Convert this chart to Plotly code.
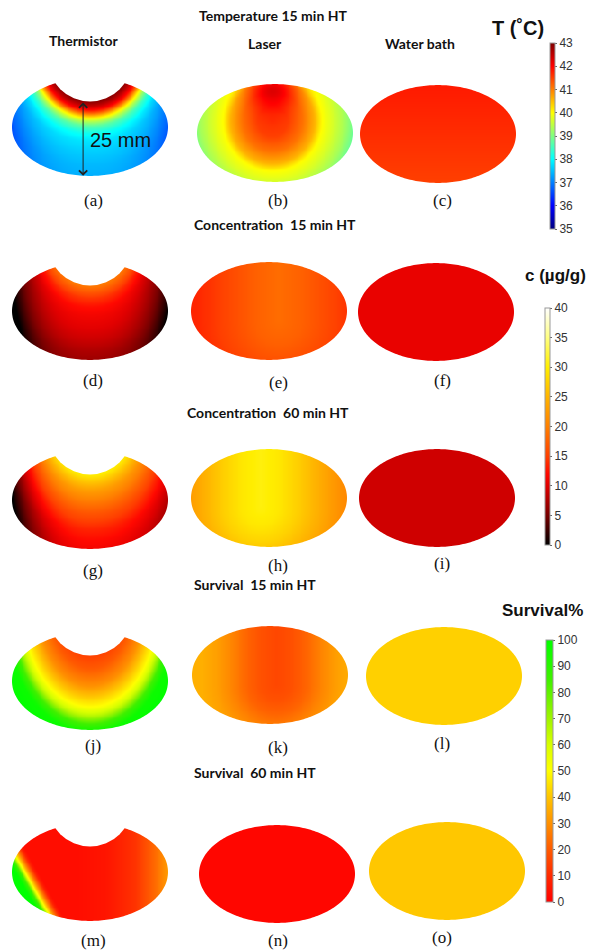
import numpy as np
import plotly.graph_objects as go

W, H = 595, 950
PX_PER_MM = 3.0

# ---------------- geometry (mm) ----------------
A_SEMI = 26.0      # half width of the tissue section
B_SEMI = 16.3      # half height of the tissue section
NOTCH_YC = 22.5    # centre of the thermistor notch (above section centre)
NOTCH_R = 14.0     # notch radius
LASER_TOP, LASER_BOT = 17.0, -3.0   # extent of the laser heating axis

# ---------------- colour scales ----------------
CS_TEMP = [[0.0, "#00007f"], [0.125, "#0000ff"], [0.375, "#00ffff"],
           [0.5, "#80ff80"], [0.625, "#ffff00"], [0.875, "#ff0000"], [1.0, "#7f0000"]]
CS_CONC = [[0.0, "#000000"], [0.125, "#780000"], [0.25, "#e00000"], [0.3, "#ff0800"],
           [0.375, "#ff4000"], [0.5, "#ff8000"], [0.625, "#ffb400"], [0.75, "#ffee00"],
           [0.875, "#ffff80"], [1.0, "#ffffff"]]
CS_SURV = [[0.0, "#ff0000"], [0.1, "#ff2a00"], [0.2, "#ff5a00"], [0.3, "#ff9000"],
           [0.4, "#ffc400"], [0.5, "#ffff00"], [0.6, "#d8ff00"], [0.7, "#a0f400"],
           [0.85, "#40f000"], [1.0, "#00ff00"]]

TEMP_TICKS = [35, 36, 37, 38, 39, 40, 41, 42, 43]
CONC_TICKS = [0, 5, 10, 15, 20, 25, 30, 35, 40]
SURV_TICKS = [0, 10, 20, 30, 40, 50, 60, 70, 80, 90, 100]

# ---------------- field profiles ----------------
# (a) temperature, thermistor: vs distance from notch wall (mm)
A_DN = [0, 1.3, 2.6, 3.8, 5, 6.3, 8, 10.5, 13, 17, 21, 26]
A_T = [42.9, 42.5, 42.0, 41.2, 40.3, 39.5, 38.7, 38.1, 37.8, 37.6, 37.45, 37.35]
A_EDGE_DROP = 0.8
# (b) temperature, laser: radial profile about the beam focus + surface hot spot
B_FOCUS = (-1.0, 4.0)
B_R = [0, 5, 10, 14, 16.5, 20, 24, 28]
B_T = [41.6, 41.5, 41.1, 40.6, 40.0, 39.7, 39.3, 38.7]
B_SPOT = (-1.0, 16.3, 9.0, 7.0, 1.3)   # x, y, width x, width y, amplitude
# (c) temperature, water bath: bottom / top
C_T = [41.5, 41.8]
# (d) concentration 15 min, thermistor
D_DN = [0, 2, 4, 7, 10, 14, 18, 22, 26]
D_C = [19.5, 17, 14.5, 12.3, 11.2, 10.2, 9, 7.5, 6.5]
D_EDGE_DROP = (10.0, 8.5)
# (e) concentration 15 min, laser
E_X0 = 3.0
E_D = [0, 8, 15, 22, 28]
E_C = [18.5, 17.5, 16, 14.5, 13.5]
# (f) concentration 15 min, water bath
F_C = 10.6
# (g) concentration 60 min, thermistor
G_DN = [0, 2, 5, 9, 13, 18, 22, 26]
G_C = [30, 27, 23, 19.5, 16.5, 13.5, 12, 11]
G_EDGE_DROP = (13.0, 5.0)
# (h) concentration 60 min, laser
H_X0 = -3.0
H_D = [0, 6, 12, 18, 24, 28]
H_C = [30.5, 29.5, 27.5, 25, 22.5, 21]
# (i) concentration 60 min, water bath
I_C = 9.2
# (j) survival 15 min, thermistor: vs scaled distance from notch centre
J_K = 0.71
J_Q = [10, 13, 17, 20, 22, 24, 26, 28, 32]
J_S = [15, 20, 30, 42, 50, 65, 85, 97, 100]
# (k) survival 15 min, laser
K_X0 = 2.0
K_D = [0, 5, 10, 15, 20, 25]
K_S = [16, 18, 22, 28, 33, 36]
# (l) survival 15 min, water bath
L_S = 42.0
# (m) survival 60 min, thermistor: surviving rim at lower left + warm right side
M_FRONT = [(-24.3, 5.0), (-13.3, -14.3)]
M_SD = [-4, -2.5, -1.0, 0.3, 1.6, 3.0]
M_SV = [0, 8, 28, 50, 85, 100]
M_X = [-5, 5, 15, 22, 26]
M_XV = [3, 5, 12, 24, 33]
# (n) survival 60 min, laser
N_S = 1.5
# (o) survival 60 min, water bath
O_S = 40.5

# ---------------- field builders ----------------
xs = np.arange(-27.0, 27.001, 0.6)
ys = np.arange(-17.0, 17.001, 0.6)
X, Y = np.meshgrid(xs, ys)


def notch_dist():
    return np.hypot(X, Y - NOTCH_YC) - NOTCH_R


def edge_drop(left, right, power=3.0):
    return (left * (np.maximum(-X, 0) / A_SEMI) ** power
            + right * (np.maximum(X, 0) / A_SEMI) ** power)


def axis_dist(x0):
    return np.hypot(X - x0, np.maximum(0, LASER_BOT - Y) + np.maximum(0, Y - LASER_TOP))


def uniform(v):
    return np.full_like(X, v)


def field_a():
    return np.interp(notch_dist(), A_DN, A_T) - A_EDGE_DROP * (np.abs(X) / A_SEMI) ** 3


def field_b():
    r = np.hypot(X - B_FOCUS[0], Y - B_FOCUS[1])
    sx, sy, wx, wy, amp = B_SPOT
    spot = amp * np.exp(-((X - sx) / wx) ** 2 - ((Y - sy) / wy) ** 2)
    return np.interp(r, B_R, B_T) + spot


def field_c():
    return np.interp(Y, [-B_SEMI, B_SEMI], C_T)


def field_d():
    return np.interp(notch_dist(), D_DN, D_C) - edge_drop(*D_EDGE_DROP)


def field_e():
    return np.interp(axis_dist(E_X0), E_D, E_C)


def field_g():
    return np.interp(notch_dist(), G_DN, G_C) - edge_drop(*G_EDGE_DROP, power=2.5)


def field_h():
    return np.interp(axis_dist(H_X0), H_D, H_C)


def field_j():
    q = np.hypot(X, J_K * (Y - NOTCH_YC))
    return np.interp(q, J_Q, J_S)


def field_k():
    return np.interp(axis_dist(K_X0), K_D, K_S)


def field_m():
    (x1, y1), (x2, y2) = M_FRONT
    dx, dy = x2 - x1, y2 - y1
    n = np.hypot(dx, dy)
    nx, ny = dy / n, -dx / n          # normal pointing out of the section (lower left)
    s = (X - x1) * nx + (Y - y1) * ny
    rim = np.interp(s, M_SD, M_SV)
    core = np.interp(X, M_X, M_XV)
    return np.maximum(rim, core)


# label, centre (px), colour axis, field, has notch, label position (px)
PANELS = [
    ("(a)", 90, 127, "coloraxis", field_a(), True, (93, 200)),
    ("(b)", 275, 133, "coloraxis", field_b(), False, (278, 200)),
    ("(c)", 438, 134, "coloraxis", field_c(), False, (442, 200)),
    ("(d)", 90, 311, "coloraxis2", field_d(), True, (93, 380)),
    ("(e)", 269, 311, "coloraxis2", field_e(), False, (278, 382)),
    ("(f)", 436, 312, "coloraxis2", uniform(F_C), False, (442, 380)),
    ("(g)", 90, 500, "coloraxis2", field_g(), True, (93, 570)),
    ("(h)", 269, 498, "coloraxis2", field_h(), False, (278, 565)),
    ("(i)", 437, 498, "coloraxis2", uniform(I_C), False, (442, 563)),
    ("(j)", 90, 681, "coloraxis3", field_j(), True, (93, 745)),
    ("(k)", 270, 675, "coloraxis3", field_k(), False, (278, 747)),
    ("(l)", 444, 676, "coloraxis3", uniform(L_S), False, (442, 743)),
    ("(m)", 90, 872, "coloraxis3", field_m(), True, (93, 940)),
    ("(n)", 277, 874, "coloraxis3", uniform(N_S), False, (278, 940)),
    ("(o)", 447, 871, "coloraxis3", uniform(O_S), False, (442, 937)),
]

BOX_W, BOX_H = 170, 120   # subplot box in px

fig = go.Figure()
layout = dict(width=W, height=H, margin=dict(l=0, r=0, t=0, b=0),
              paper_bgcolor="white", plot_bgcolor="white", showlegend=False)
shapes, annotations = [], []

# mask: rectangle minus the ellipse outline, filled white
t = np.linspace(0, 2 * np.pi, 241)
ex, ey = A_SEMI * np.cos(t), B_SEMI * np.sin(t)
RX, RY = 27.8, 17.8
mask_path = (f"M{-RX},{-RY} L{RX},{-RY} L{RX},{RY} L{-RX},{RY} Z "
             + "M" + " L".join(f"{a:.3f},{b:.3f}" for a, b in zip(ex, ey)) + " Z")


def paper(px, py):
    return px / W, 1 - py / H


for i, (lab, cx, cy, cax, z, notch, lab_pos) in enumerate(PANELS, start=1):
    sfx = "" if i == 1 else str(i)
    xr = BOX_W / 2 / PX_PER_MM
    yr = BOX_H / 2 / PX_PER_MM
    layout["xaxis" + sfx] = dict(domain=[(cx - BOX_W / 2) / W, (cx + BOX_W / 2) / W],
                                 range=[-xr, xr], visible=False, anchor="y" + sfx,
                                 fixedrange=True)
    layout["yaxis" + sfx] = dict(domain=[1 - (cy + BOX_H / 2) / H, 1 - (cy - BOX_H / 2) / H],
                                 range=[-yr, yr], visible=False, anchor="x" + sfx,
                                 fixedrange=True)
    fig.add_trace(go.Heatmap(x=xs, y=ys, z=np.round(z, 3), coloraxis=cax, zsmooth="best",
                             xaxis="x" + sfx, yaxis="y" + sfx, hoverinfo="skip"))
    shapes.append(dict(type="path", path=mask_path, xref="x" + sfx, yref="y" + sfx,
                       fillcolor="white", fillrule="evenodd", line=dict(width=0),
                       layer="above"))
    if notch:
        shapes.append(dict(type="circle", xref="x" + sfx, yref="y" + sfx,
                           x0=-NOTCH_R, x1=NOTCH_R, y0=NOTCH_YC - NOTCH_R,
                           y1=NOTCH_YC + NOTCH_R, fillcolor="white",
                           line=dict(width=0), layer="above"))
    px, py = paper(*lab_pos)
    annotations.append(dict(text=lab, x=px, y=py, xref="paper", yref="paper",
                            showarrow=False, xanchor="center", yanchor="middle",
                            font=dict(family="Liberation Serif", size=17, color="#111")))

# 25 mm depth marker in panel (a)
ARROW_X = -2.3
y_top = NOTCH_YC - np.sqrt(NOTCH_R ** 2 - ARROW_X ** 2)
y_bot = -B_SEMI * np.sqrt(1 - (ARROW_X / A_SEMI) ** 2)
annotations.append(dict(x=ARROW_X, y=y_bot, ax=ARROW_X, ay=y_top, xref="x", yref="y",
                        axref="x", ayref="y", text="", showarrow=True,
                        arrowside="end+start", arrowhead=4, startarrowhead=4,
                        arrowsize=1.6, startarrowsize=1.6, arrowwidth=1,
                        arrowcolor="#222", standoff=0, startstandoff=0))
annotations.append(dict(x=10.0, y=-4.3, xref="x", yref="y", text="25 mm", showarrow=False,
                        font=dict(family="Liberation Sans", size=20, color="#111")))

# headings
HEADINGS = [
    ("<b>Temperature 15 min HT</b>", 273, 15),
    ("<b>Thermistor</b>", 83, 40),
    ("<b>Laser</b>", 265, 43),
    ("<b>Water bath</b>", 420, 43),
    ("<b>Concentration\u00a0 15 min HT</b>", 275, 224),
    ("<b>Concentration\u00a0 60 min HT</b>", 268, 413),
    ("<b>Survival\u00a0 15 min HT</b>", 255, 584),
    ("<b>Survival\u00a0 60 min HT</b>", 255, 772),
]
for txt, hx, hy in HEADINGS:
    px, py = paper(hx, hy)
    annotations.append(dict(text=txt, x=px, y=py, xref="paper", yref="paper",
                            showarrow=False, xanchor="center", yanchor="middle",
                            font=dict(family="Lato", size=14, color="#111")))

CB_TITLES = [("<b>T (˚C)</b>", 518, 28, 20), ("<b>c (µg/g)</b>", 555, 275, 17),
             ("<b>Survival%</b>", 542, 610, 17)]
for txt, hx, hy, fs in CB_TITLES:
    px, py = paper(hx, hy)
    annotations.append(dict(text=txt, x=px, y=py, xref="paper", yref="paper",
                            showarrow=False, xanchor="center", yanchor="middle",
                            font=dict(family="Liberation Sans", size=fs, color="#111")))


def cbar(x_px, top_px, len_px, thick, ticks):
    return dict(x=x_px / W, xanchor="left", y=1 - top_px / H, yanchor="top",
                len=len_px, lenmode="pixels", thickness=thick, thicknessmode="pixels",
                xpad=0, ypad=0, outlinewidth=1, outlinecolor="#999",
                tickvals=ticks, ticks="outside", ticklen=2, tickcolor="#666",
                tickfont=dict(family="Liberation Sans", size=12, color="#333"))


layout["coloraxis"] = dict(colorscale=CS_TEMP, cmin=35, cmax=43,
                           colorbar=cbar(550, 43, 186, 5, TEMP_TICKS))
layout["coloraxis2"] = dict(colorscale=CS_CONC, cmin=0, cmax=40,
                            colorbar=cbar(545, 308, 237, 5, CONC_TICKS))
layout["coloraxis3"] = dict(colorscale=CS_SURV, cmin=0, cmax=100,
                            colorbar=cbar(546, 640, 262, 7, SURV_TICKS))
layout["shapes"] = shapes
layout["annotations"] = annotations
fig.update_layout(**layout)
fig.write_html("out.html")
